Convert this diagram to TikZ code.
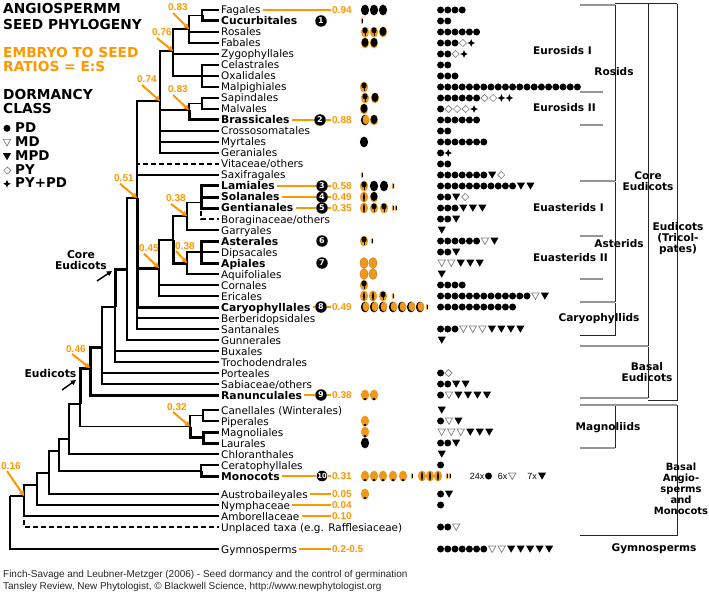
\documentclass[tikz,border=0pt]{standalone}
\usepackage{fontspec}
\setmainfont{DejaVu Sans}
\newfontfamily\arialf{Liberation Sans}
\usetikzlibrary{arrows.meta}
\definecolor{oran}{RGB}{255,152,0}
\definecolor{sor}{RGB}{240,152,25}
\definecolor{brgray}{RGB}{150,150,150}
\newcommand\rowstart[2]{\xdef\rowx{#1}\xdef\rowy{#2}}
\newcommand\symD{\pgfmathsetmacro\rc{\rowx+3.6}\fill[black] (\rc,\rowy) circle (3.5bp);\pgfmathsetmacro\rc{\rowx+7.2}\xdef\rowx{\rc}}
\newcommand\symMD{\pgfmathsetmacro\rc{\rowx+4.75}\draw[gray,line width=0.7bp,line join=miter] (\rc-3.7,\rowy-3.1) -- (\rc+3.7,\rowy-3.1) -- (\rc,\rowy+3.5) -- cycle;\pgfmathsetmacro\rc{\rowx+9.5}\xdef\rowx{\rc}}
\newcommand\symMPD{\pgfmathsetmacro\rc{\rowx+4.75}\fill[black] (\rc-4,\rowy-3.3) -- (\rc+4,\rowy-3.3) -- (\rc,\rowy+3.7) -- cycle;\pgfmathsetmacro\rc{\rowx+9.5}\xdef\rowx{\rc}}
\newcommand\symPY{\pgfmathsetmacro\rc{\rowx+4.3}\draw[gray,line width=0.6bp] (\rc,\rowy-3.6) .. controls (\rc+1.2,\rowy-1.2) .. (\rc+3.6,\rowy) .. controls (\rc+1.2,\rowy+1.2) .. (\rc,\rowy+3.6) .. controls (\rc-1.2,\rowy+1.2) .. (\rc-3.6,\rowy) .. controls (\rc-1.2,\rowy-1.2) .. (\rc,\rowy-3.6) -- cycle;\pgfmathsetmacro\rc{\rowx+8.6}\xdef\rowx{\rc}}
\newcommand\symPP{\pgfmathsetmacro\rc{\rowx+4}\fill[black] (\rc,\rowy-3.8) .. controls (\rc+0.9,\rowy-0.9) .. (\rc+3.8,\rowy) .. controls (\rc+0.9,\rowy+0.9) .. (\rc,\rowy+3.8) .. controls (\rc-0.9,\rowy+0.9) .. (\rc-3.8,\rowy) .. controls (\rc-0.9,\rowy-0.9) .. (\rc,\rowy-3.8) -- cycle;\pgfmathsetmacro\rc{\rowx+8}\xdef\rowx{\rc}}
\newcommand\nD[1]{\foreach \k in {1,...,#1}{\symD}}
\tikzset{
 tax/.style={anchor=west, inner xsep=2bp, inner ysep=0pt, text height=8bp, text depth=0pt, font=\fontsize{10.5}{11}\selectfont},
 btax/.style={tax, font=\bfseries\fontsize{10.8}{11}\selectfont},
 br/.style={black, line width=1.9bp, line join=miter},
 thk/.style={black, line width=3bp, line join=miter},
 dsh/.style={br, dash pattern=on 5bp off 3bp},
 onum/.style={anchor=west, inner xsep=1bp, inner ysep=0pt, text height=7.2bp, text depth=0pt, text=oran, font=\arialf\bfseries\fontsize{10}{11}\selectfont},
 olab/.style={anchor=base west, inner sep=0pt, text=oran, font=\arialf\bfseries\fontsize{10}{11}\selectfont},
 oline/.style={oran, line width=1.8bp},
 oarr/.style={oran, line width=2bp, -{Triangle[length=5bp,width=5.5bp]}},
 barr/.style={black, line width=1.5bp, -{Triangle[length=5bp,width=5bp]}},
 circ/.style={circle, fill=black, inner sep=0pt, minimum size=11.5bp, text=white, font=\bfseries\fontsize{8}{8}\selectfont},
 hdr/.style={anchor=base west, inner sep=0pt, font=\bfseries\fontsize{13.8}{14}\selectfont},
 leg/.style={anchor=base west, inner sep=0pt, font=\bfseries\fontsize{13.5}{14}\selectfont},
 brl/.style={inner sep=0pt, font=\bfseries\fontsize{10.6}{11}\selectfont},
 brl1/.style={brl, text height=7.8bp, text depth=0pt},
 gdouble/.style={brgray, line width=2.4bp},
 gsep/.style={brgray, line width=1.4bp},
 bline/.style={black!85, line width=1bp},
 foot/.style={anchor=base west, inner sep=0pt, text=black!85, font=\arialf\fontsize{10}{11}\selectfont},
 mult/.style={anchor=east, inner sep=0pt, text height=6.6bp, text depth=0pt, font=\arialf\fontsize{9}{10}\selectfont},
 pics/seedB/.style={code={\fill[black] (0,0) ellipse (4.1bp and 5.4bp);}},
 pics/seedK/.style={code={\fill[sor] (0,0) ellipse (4.1bp and 5.4bp);\fill[black] (0,-0.6) ellipse (3.4bp and 4.6bp);}},
 pics/seedO/.style={code={\fill[sor] (0,0) ellipse (4.1bp and 5.4bp);\fill[black] (0,-1.6) ellipse (2.6bp and 3bp);\draw[black,line width=0.8bp] (0,0)--(0,4);}},
 pics/seedL/.style={code={\fill[sor] (0,0) ellipse (4.1bp and 5.4bp);\fill[black] (0,0.3) ellipse (0.9bp and 4.6bp);}},
 pics/seedC/.style={code={\fill[black] (0,0) ellipse (4.1bp and 5.4bp);\fill[sor] (0.9,-0.4) ellipse (3.3bp and 4.7bp);}},
 pics/seedM/.style={code={\fill[sor] (0,0) ellipse (4.1bp and 5.4bp);\fill[black] (0,4.1) ellipse (1.8bp and 1.2bp);}},
 pics/seedP/.style={code={\fill[sor] (0,0) ellipse (4.1bp and 5.4bp);\draw[sor!70!black,line width=0.3bp] (0,0) ellipse (4.1bp and 5.4bp);}},
 pics/seedT/.style={code={\fill[sor] (0,0) ellipse (1.3bp and 3.2bp);\draw[black,line width=0.5bp] (0,-2)--(0,2);}},
}
\begin{document}
\begin{tikzpicture}[x=1bp,y=-1bp]
\useasboundingbox (0,0) rectangle (709,595);
\fill[white] (0,0) rectangle (709,595);
% headers
\node[hdr] (h1) at (3,14) {ANGIOSPERMM};
\node[hdr] (h2) at (3,29.5) {SEED PHYLOGENY};
\node[hdr,text=oran] (h3) at (3,57.3) {EMBRYO TO SEED};
\node[hdr,text=oran] (h4) at (3,71.7) {RATIOS = E:S};
\node[hdr] (h5) at (3,100) {DORMANCY};
\node[hdr] (h6) at (3,114) {CLASS};
\node[leg] (lPD) at (15,132.7) {PD};
\node[leg] (lMD) at (15,146.7) {MD};
\node[leg] (lMPD) at (15,160.7) {MPD};
\node[leg] (lPY) at (15,175) {PY};
\node[leg] (lPP) at (15,188) {PY+PD};
\rowstart{3.4}{128.3}\symD
\rowstart{2.25}{142.5}\symMD
\rowstart{2.25}{156.5}\symMPD
\rowstart{3}{170.5}\symPY
\rowstart{3}{183.8}\symPP
% taxa
\node[tax] (fag) at (219,10) {Fagales};
\node[btax] (cuc) at (219,21) {Cucurbitales};
\node[tax] (ros) at (219,32) {Rosales};
\node[tax] (fab) at (219,43) {Fabales};
\node[tax] (zyg) at (219,54) {Zygophyllales};
\node[tax] (cel) at (219,65) {Celastrales};
\node[tax] (oxa) at (219,76) {Oxalidales};
\node[tax] (malp) at (219,87) {Malpighiales};
\node[tax] (sap) at (219,98) {Sapindales};
\node[tax] (malv) at (219,109) {Malvales};
\node[btax] (bra) at (219,120) {Brassicales};
\node[tax] (cro) at (219,131) {Crossosomatales};
\node[tax] (myr) at (219,142) {Myrtales};
\node[tax] (ger) at (219,153) {Geraniales};
\node[tax] (vit) at (219,164) {Vitaceae/others};
\node[tax] (sax) at (219,175) {Saxifragales};
\node[btax] (lam) at (219,186) {Lamiales};
\node[btax] (sol) at (219,197) {Solanales};
\node[btax] (gen) at (219,208) {Gentianales};
\node[tax] (bor) at (219,219) {Boraginaceae/others};
\node[tax] (gar) at (219,230) {Garryales};
\node[btax] (ast) at (219,241) {Asterales};
\node[tax] (dip) at (219,252) {Dipsacales};
\node[btax] (api) at (219,263) {Apiales};
\node[tax] (aqu) at (219,274) {Aquifoliales};
\node[tax] (cor) at (219,285) {Cornales};
\node[tax] (eri) at (219,296) {Ericales};
\node[btax] (car) at (219,307) {Caryophyllales};
\node[tax] (ber) at (219,318) {Berberidopsidales};
\node[tax] (san) at (219,329) {Santanales};
\node[tax] (gun) at (219,340) {Gunnerales};
\node[tax] (bux) at (219,351) {Buxales};
\node[tax] (tro) at (219,362) {Trochodendrales};
\node[tax] (por) at (219,373) {Porteales};
\node[tax] (sab) at (219,384) {Sabiaceae/others};
\node[btax] (ran) at (219,395) {Ranunculales};
\node[tax] (can) at (219,410) {Canellales (Winterales)};
\node[tax] (pip) at (219,421) {Piperales};
\node[tax] (magn) at (219,432) {Magnoliales};
\node[tax] (lau) at (219,443) {Laurales};
\node[tax] (chl) at (219,454) {Chloranthales};
\node[tax] (cer) at (219,465) {Ceratophyllales};
\node[btax] (mon) at (219,476) {Monocots};
\node[tax] (aus) at (219,494) {Austrobaileyales};
\node[tax] (nym) at (219,505) {Nymphaceae};
\node[tax] (amb) at (219,516) {Amborellaceae};
\node[tax] (unp) at (219,527) {Unplaced taxa (e.g. Rafflesiaceae)};
\node[tax] (gym) at (219,549) {Gymnosperms};
% internal nodes
\coordinate (root) at (10,496);
\coordinate (nAng) at (24,496);
\coordinate (nA2) at (37,485);
\coordinate (nA3) at (49,473);
\coordinate (nA4) at (59,451);
\coordinate (nA5) at (69,439);
\coordinate (nA6) at (80,404);
\coordinate (nEud) at (90,368);
\coordinate (nEud2) at (102,347);
\coordinate (nEud3) at (115,307);
\coordinate (nCore) at (127,269);
\coordinate (nCE) at (137,198);
\coordinate (nRos) at (160,101);
\coordinate (nEI) at (173,51);
\coordinate (nFab) at (189,29);
\coordinate (nFC) at (202,15.5);
\coordinate (nCel) at (202,76);
\coordinate (nEII) at (189,110);
\coordinate (nSM) at (202,103.5);
\coordinate (nAst) at (159,268);
\coordinate (nAC) at (173,240);
\coordinate (nEAI) at (187,216);
\coordinate (nLam) at (201,202.5);
\coordinate (nEAII) at (187,263);
\coordinate (nAsD) at (201,252);
\coordinate (nMag) at (190,426.5);
\coordinate (nMag1) at (203,415.5);
\coordinate (nMag2) at (203,437.5);
\coordinate (nCM) at (201,471);
% tree
\draw[br] (root) |- (nAng);
\draw[br] (root) |- (gym.west);
\draw[dsh] (nAng) |- (unp.west);
\draw[br] (nAng) |- (nA2);
\draw[br] (nAng) |- (amb.west);
\draw[br] (nA2) |- (nA3);
\draw[br] (nA2) |- (nym.west);
\draw[br] (nA3) |- (nA4);
\draw[br] (nA3) |- (aus.west);
\draw[br] (nA4) |- (nA5);
\draw[br] (nA4) |- (nCM);
\draw[br] (nCM) |- (cer.west);
\draw[thk] (nCM) |- (mon.west);
\draw[br] (nA5) |- (nA6);
\draw[br] (nA5) |- (chl.west);
\draw[br] (nA6) |- (nMag);
\draw[thk] (nA6) |- (nEud);
\draw[br] (nMag) |- (nMag1);
\draw[thk] (nMag) |- (nMag2);
\draw[br] (nMag1) |- (can.west);
\draw[br] (nMag1) |- (pip.west);
\draw[thk] (nMag2) |- (magn.west);
\draw[thk] (nMag2) |- (lau.west);
\draw[thk] (nEud) |- (nEud2);
\draw[thk] (nEud) |- (ran.west);
\draw[br] (nEud2) |- (nEud3);
\draw[br] (nEud2) |- (por.west);
\draw[br] (nEud2) |- (sab.west);
\draw[br] (nEud3) |- (bux.west);
\draw[br] (nEud3) |- (tro.west);
\draw[thk] (nEud3) |- (nCore);
\draw[br] (nCore) |- (nCE);
\draw[br] (nCore) |- (gun.west);
\draw[br] (nCE) |- (nRos);
\draw[dsh] (nCE) |- (vit.west);
\draw[br] (nCE) |- (sax.west);
\draw[thk] (nCE) |- (nAst);
\draw[thk] (nCE) |- (car.west);
\draw[br] (nCE) |- (ber.west);
\draw[br] (nCE) |- (san.west);
\draw[br] (nRos) |- (nEI);
\draw[br] (nRos) |- (nEII);
\draw[br] (nRos) |- (cro.west);
\draw[br] (nRos) |- (myr.west);
\draw[br] (nRos) |- (ger.west);
\draw[br] (nEI) |- (nFab);
\draw[br] (nEI) |- (zyg.west);
\draw[br] (nEI) |- (nCel);
\draw[br] (nFab) |- (nFC);
\draw[br] (nFab) |- (ros.west);
\draw[br] (nFab) |- (fab.west);
\draw[br] (nFC) |- (fag.west);
\draw[thk] (nFC) |- (cuc.west);
\draw[br] (nCel) |- (cel.west);
\draw[br] (nCel) |- (oxa.west);
\draw[br] (nCel) |- (malp.west);
\draw[br] (nEII) |- (nSM);
\draw[thk] (nEII) |- (bra.west);
\draw[br] (nSM) |- (sap.west);
\draw[br] (nSM) |- (malv.west);
\draw[br] (nAst) |- (nAC);
\draw[br] (nAst) |- (cor.west);
\draw[br] (nAst) |- (eri.west);
\draw[br] (nAC) |- (nEAI);
\draw[thk] (nAC) |- (nEAII);
\draw[br] (nEAI) |- (nLam);
\draw[br] (nEAI) |- (gar.west);
\draw[dsh] (nLam) |- (bor.west);
\draw[thk] (nLam) |- (lam.west);
\draw[thk] (nLam) |- (sol.west);
\draw[thk] (nLam) |- (gen.west);
\draw[br] (nEAII) |- (nAsD);
\draw[br] (nEAII) |- (aqu.west);
\draw[thk] (nAsD) |- (ast.west);
\draw[br] (nAsD) |- (dip.west);
\draw[thk] (nAsD) |- (api.west);
% node ratio labels
\node[olab] (o1) at (168,11) {0.83};
\node[olab] (o2) at (152,36) {0.76};
\node[olab] (o3) at (137,83) {0.74};
\node[olab] (o4) at (168,93) {0.83};
\node[olab] (o5) at (114,181.7) {0.51};
\node[olab] (o6) at (166,202) {0.38};
\node[olab] (o7) at (139,251.7) {0.45};
\node[olab] (o8) at (175,249) {0.38};
\node[olab] (o9) at (66,352) {0.46};
\node[olab] (o10) at (167,410) {0.32};
\node[olab] (o11) at (1,469) {0.16};
\draw[oarr] ([xshift=5bp,yshift=-2bp]o1.base west) -- (nFab);
\draw[oarr] ([xshift=5bp,yshift=-2bp]o2.base west) -- (nEI);
\draw[oarr] ([xshift=5bp,yshift=-2bp]o3.base west) -- (nRos);
\draw[oarr] ([xshift=5bp,yshift=-2bp]o4.base west) -- (nEII);
\draw[oarr] ([xshift=6bp,yshift=-2bp]o5.base west) -- (nCE);
\draw[oarr] ([xshift=5bp,yshift=-2bp]o6.base west) -- (nEAI);
\draw[oarr] ([xshift=5bp,yshift=-2bp]o7.base west) -- (nAst);
\draw[oarr] ([xshift=1bp,yshift=-2bp]o8.base west) -- (nEAII);
\draw[oarr] ([xshift=6bp,yshift=-2bp]o9.base west) -- (nEud);
\draw[oarr] ([xshift=6bp,yshift=-2bp]o10.base west) -- (nMag);
\draw[oarr] ([xshift=6bp,yshift=-2bp]o11.base west) -- (nAng);
% black labels
\node[brl,align=center,font=\bfseries\fontsize{10.8}{11}\selectfont] (lCE) at (81,260) {Core\\Eudicots};
\node[brl,font=\bfseries\fontsize{10.8}{11}\selectfont] (lEu) at (50.5,373) {Eudicots};
\coordinate (tCE) at (97,281);
\coordinate (aCE) at (112,271);
\coordinate (tEu) at (62,390);
\coordinate (aEu) at (76,380);
\draw[barr] (tCE) -- (aCE);
\draw[barr] (tEu) -- (aEu);
% numbered circles and ratios
\node[circ] (c1) at (321,21) {1};
\node[onum] (v94) at (331,10) {0.94};
\draw[oline] (fag.east) -- (v94.west);
\node[circ] (c2) at (320,120) {2};
\node[onum] (v88) at (331,120) {0.88};
\draw[oline] (bra.east) -- (c2);
\draw[oline] (c2) -- (v88.west);
\node[circ] (c3) at (322,186) {3};
\node[onum] (v58) at (331,186) {0.58};
\draw[oline] (lam.east) -- (c3);
\draw[oline] (c3) -- (v58.west);
\node[circ] (c4) at (322,197) {4};
\node[onum] (v49) at (331,197) {0.49};
\draw[oline] (sol.east) -- (c4);
\draw[oline] (c4) -- (v49.west);
\node[circ] (c5) at (322,208) {5};
\node[onum] (v35) at (331,208) {0.35};
\draw[oline] (gen.east) -- (c5);
\draw[oline] (c5) -- (v35.west);
\node[circ] (c6) at (322,241) {6};
\node[circ] (c7) at (322,263) {7};
\node[circ] (c8) at (321,307) {8};
\node[onum] (v49b) at (331,307) {0.49};
\draw[oline] (car.east) -- (c8);
\draw[oline] (c8) -- (v49b.west);
\node[circ] (c9) at (321,395) {9};
\node[onum] (v38) at (331,395) {0.38};
\draw[oline] (ran.east) -- (c9);
\draw[oline] (c9) -- (v38.west);
\node[circ,draw=white,line width=0.6bp,font=\bfseries\fontsize{6.8}{7}\selectfont] (c10) at (322,476) {10};
\node[onum] (v31) at (331,476) {0.31};
\draw[oline] (mon.east) -- (c10);
\draw[oline] (c10) -- (v31.west);
\node[onum] (v05) at (331,494) {0.05};
\draw[oline] (aus.east) -- (v05.west);
\node[onum] (v04) at (331,505) {0.04};
\draw[oline] (nym.east) -- (v04.west);
\node[onum] (v10) at (331,516) {0.10};
\draw[oline] (amb.east) -- (v10.west);
\node[onum] (v25) at (331,549) {0.2-0.5};
\draw[oline] (gym.east) -- (v25.west);
% seeds
\pic at (365,10) {seedB}; \pic at (374,10) {seedB}; \pic at (383,10) {seedB};
\pic at (362,21) {seedT};
\pic at (365,32) {seedO}; \pic at (374,32) {seedO}; \pic at (383,32) {seedK};
\pic at (365,43) {seedK}; \pic at (374,43) {seedK};
\pic at (364,87) {seedO};
\pic at (365,98) {seedO}; \pic at (375,98) {seedK};
\pic at (364,109) {seedK};
\pic at (365,120) {seedC}; \pic at (374,120) {seedK};
\pic at (364,142) {seedB};
\pic at (362,175) {seedT};
\pic at (364,186) {seedO}; \pic at (374,186) {seedB}; \pic at (384,186) {seedB}; \pic at (393,186) {seedT};
\pic at (364,197) {seedL}; \pic at (374,197) {seedK};
\pic at (364,208) {seedL}; \pic at (374,208) {seedO}; \pic at (384,208) {seedO}; \pic at (393,208) {seedT}; \pic at (396,208) {seedT};
\pic at (364,241) {seedO}; \pic at (372,241) {seedT};
\pic at (364,263) {seedP}; \pic at (373,263) {seedP};
\pic at (364,274) {seedP}; \pic at (373,274) {seedP};
\pic at (364,285) {seedO};
\pic at (364,296) {seedL}; \pic at (373,296) {seedL}; \pic at (383,296) {seedO}; \pic at (393,296) {seedT};
\foreach \sxx in {365,374,383,393,402,411,420}{\pic at (\sxx,307) {seedC};}
\pic at (427,307) {seedT};
\pic at (365,395) {seedM}; \pic at (374,395) {seedM};
\pic at (365,421) {seedM};
\pic at (365,432) {seedM};
\pic at (365,443) {seedB};
\foreach \sxx in {365,374,383,393,403}{\pic at (\sxx,476) {seedM};}
\pic at (412,476) {seedT};
\foreach \sxx in {422,430,438}{\pic at (\sxx,476) {seedL};}
\pic at (447,476) {seedT}; \pic at (450,476) {seedT};
\pic at (365,494) {seedM};
% dormancy symbols
\rowstart{437}{10}\nD{4}
\rowstart{437}{21}\nD{2}
\rowstart{437}{32}\nD{6}
\rowstart{437}{43}\nD{3}\symPY\symPP
\rowstart{437}{54}\nD{2}\symPY\symPP
\rowstart{437}{65}\nD{2}
\rowstart{437}{76}\nD{3}
\rowstart{437}{87}\nD{20}
\rowstart{437}{98}\nD{6}\symPY\symPY\symPP\symPP
\rowstart{437}{109}\symD\symPY\symPY\symPY\symPP
\rowstart{437}{120}\nD{6}
\rowstart{437}{131}\nD{2}
\rowstart{437}{142}\nD{7}
\rowstart{437}{153}\symD\symPP
\rowstart{437}{164}\nD{2}
\rowstart{437}{175}\nD{7}\symMPD\symPY
\rowstart{437}{186}\nD{11}\symMPD\symMPD
\rowstart{437}{197}\nD{2}\symMPD\symPY
\rowstart{437}{208}\nD{3}\symMPD\symMPD\symMPD
\rowstart{437}{219}\nD{2}\symMPD
\rowstart{437}{230}\symMPD
\rowstart{437}{241}\nD{6}\symMD\symMPD
\rowstart{437}{252}\nD{2}\symMPD
\rowstart{437}{263}\symMD\symMD\symMPD\symMPD\symMPD
\rowstart{437}{274}\symMPD
\rowstart{437}{285}\nD{4}
\rowstart{437}{296}\nD{13}\symMD\symMPD
\rowstart{437}{307}\nD{11}
\rowstart{437}{329}\nD{3}\symMD\symMD\symMD\symMPD\symMPD\symMPD\symMPD
\rowstart{437}{340}\symMPD
\rowstart{437}{373}\symD\symPY
\rowstart{437}{384}\nD{2}\symMPD\symMPD
\rowstart{437}{395}\symD\symMD\symMPD\symMPD\symMPD\symMPD
\rowstart{437}{410}\symMPD
\rowstart{437}{421}\symD\symMD\symMPD
\rowstart{437}{432}\symMD\symMD\symMD\symMPD\symMPD\symMPD
\rowstart{437}{443}\nD{2}\symMPD
\rowstart{437}{454}\symMPD
\rowstart{437}{465}\symD
\rowstart{437}{494}\symD\symMPD
\rowstart{437}{505}\symD
\rowstart{437}{527}\nD{2}\symMD
\rowstart{437}{549}\nD{7}\symMD\symMD\symMPD\symMPD\symMPD\symMPD\symMPD
\node[mult] (m24) at (484.5,476) {24x};
\node[mult] (m6) at (507.5,476) {6x};
\node[mult] (m7) at (537,476) {7x};
\rowstart{484.9}{476}\symD
\rowstart{507.5}{476}\symMD
\rowstart{537.3}{476}\symMPD
% brackets
\draw[gdouble] (580,5) -- (615,5);
\draw[bline] (615,4) -- (677,4);
\draw[bline] (615,5) -- (615,181);
\draw[gsep] (580,92) -- (603,92);
\draw[gsep] (580,125) -- (603,125);
\draw[gdouble] (580,181) -- (615,181);
\draw[bline] (615,182) -- (615,302);
\draw[gsep] (580,236) -- (603,236);
\draw[gsep] (580,279) -- (603,279);
\draw[gdouble] (580,302) -- (615,302);
\draw[bline] (615,303) -- (615,335) -- (580,335);
\draw[bline] (648,4) -- (648,346);
\draw[gdouble] (580,346) -- (648,346);
\draw[bline] (648,347) -- (648,398);
\draw[gdouble] (580,398) -- (648,398);
\draw[bline] (677,4) -- (677,400) -- (648,400);
\draw[gdouble] (580,405) -- (677,405);
\draw[bline] (615,406) -- (615,448);
\draw[gdouble] (580,448) -- (615,448);
\draw[bline] (677,405) -- (677,535) -- (580,535);
\node[brl1,anchor=west] (lEI) at (533,51) {Eurosids I};
\node[brl1] (lRos) at (614,72) {Rosids};
\node[brl1,anchor=west] (lEII) at (533,108) {Eurosids II};
\node[brl,align=center] (lCE2) at (648,181) {Core\\Eudicots};
\node[brl1,anchor=west] (lEAI) at (533,208) {Euasterids I};
\node[brl,align=center] (lEud2) at (678,239) {Eudicots\\(Tricol-\\pates)};
\node[brl1] (lAst) at (619,244) {Asterids};
\node[brl1,anchor=west] (lEAII) at (533,258) {Euasterids II};
\node[brl1] (lCar) at (599,318) {Caryophyllids};
\node[brl,align=center] (lBE) at (647,372) {Basal\\Eudicots};
\node[brl1] (lMag) at (608,427) {Magnoliids};
\node[brl,align=center,font=\bfseries\fontsize{10}{11}\selectfont] (lBA) at (681,489) {Basal\\Angio-\\sperms\\and\\Monocots};
\node[brl1] (lGym) at (654,548) {Gymnosperms};
% footer
\node[foot] (f1) at (3,577) {Finch-Savage and Leubner-Metzger (2006) - Seed dormancy and the control of germination};
\node[foot] (f2) at (3,589.5) {Tansley Review, New Phytologist, © Blackwell Science, http://www.newphytologist.org};
\end{tikzpicture}
\end{document}
